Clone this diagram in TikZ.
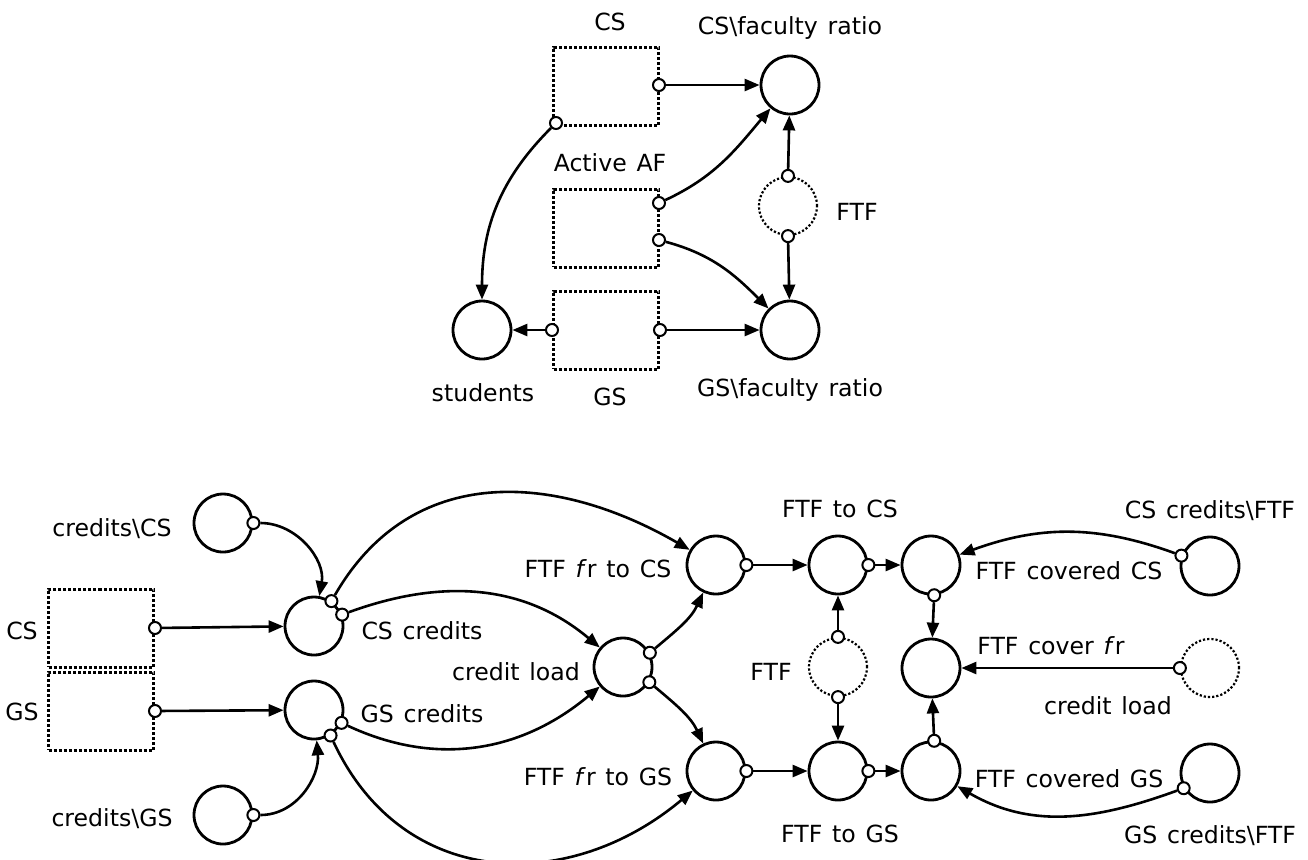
\documentclass[tikz,border=0pt]{standalone}
\usepackage{fontspec}
\setmainfont{DejaVu Sans}[WordSpace=1.3]
\usetikzlibrary{arrows.meta}

\begin{document}
\begin{tikzpicture}[x=0.5pt,y=-0.5pt,font=\fontsize{11.8}{14}\selectfont,
  main node/.style={circle,draw,line width=1.4pt,minimum size=29pt,inner sep=0pt},
  pool node/.style={main node,line width=1.1pt,densely dotted},
  stock/.style={draw,densely dotted,line width=1.5pt,minimum width=52.5pt,minimum height=39pt,inner sep=0pt},
  port/.style={circle,draw,fill=white,line width=1pt,minimum size=6pt,inner sep=0pt},
  flow/.style={-{Triangle[length=7.5pt,width=6pt]},line width=1.3pt}]
  \useasboundingbox (0,0) rectangle (1308,859);

  	\node[stock] at (606,86) (cs) {};
  	\node[stock] at (606,228) (af) {};
  	\node[stock] at (606,330) (gs) {};
  	\node[main node] at (790,85) (csr) {};
  	\node[main node] at (790,330) (gsr) {};
  	\node[pool node] at (788,206) (ftf) {};
  	\node[main node] at (482,330) (st) {};

  	\node at (610,22) (l1) {CS};
  	\node at (790,28) (l2) {CS\textbackslash faculty ratio};
  	\node at (610,163) (l3) {Active AF};
  	\node at (857,212) (l4) {FTF};
  	\node at (483,393) (l5) {students};
  	\node at (610,397) (l6) {GS};
  	\node at (790,390) (l7) {GS\textbackslash faculty ratio};

  	\node[port] at (659,85) (p1) {};
  	\node[port] at (556,123) (p2) {};
  	\node[port] at (659,203) (p3) {};
  	\node[port] at (659,240) (p4) {};
  	\node[port] at (ftf.north) (p5) {};
  	\node[port] at (ftf.south) (p6) {};
  	\node[port] at (gs.west) (p7) {};
  	\node[port] at (gs.east) (p8) {};

  	\path[flow]
  	(p1) edge (csr)
  	(p2) edge[out=-135,in=90] (st)
  	(p3) edge[out=25,in=-130] (csr)
  	(p4) edge[out=-15,in=135] (gsr)
  	(p5) edge (csr)
  	(p6) edge (gsr)
  	(p7) edge (st)
  	(p8) edge (gsr);

  	\node[main node] at (223,523) (ccs) {};
  	\node[main node] at (223,815) (cgs) {};
  	\node[stock] at (101,628) (cs2) {};
  	\node[stock] at (101,711) (gs2) {};
  	\node[main node] at (314,626) (cscr) {};
  	\node[main node] at (314,710) (gscr) {};
  	\node[main node] at (623,667) (cl) {};
  	\node[main node] at (716,565) (fcs) {};
  	\node[main node] at (716,771) (fgs) {};
  	\node[main node] at (838,565) (tcs) {};
  	\node[main node] at (838,771) (tgs) {};
  	\node[pool node] at (838,667) (ftf2) {};
  	\node[main node] at (931,565) (vcs) {};
  	\node[main node] at (931,668) (vfr) {};
  	\node[main node] at (931,771) (vgs) {};
  	\node[main node] at (1210,566) (cftf) {};
  	\node[pool node] at (1210,668) (cl2) {};
  	\node[main node] at (1210,773) (gftf) {};

  	\node at (112,529) (l8) {credits\textbackslash CS};
  	\node at (112,819) (l9) {credits\textbackslash GS};
  	\node at (22,631) (l10) {CS};
  	\node at (22,712) (l11) {GS};
  	\node at (422,631) (l12) {CS credits};
  	\node at (422,714) (l13) {GS credits};
  	\node at (516,672) (l14) {credit load};
  	\node at (598,569) (l15) {FTF \textit{f}r to CS};
  	\node at (598,777) (l16) {FTF \textit{f}r to GS};
  	\node at (840,509) (l17) {FTF to CS};
  	\node at (840,834) (l18) {FTF to GS};
  	\node at (771,672) (l19) {FTF};
  	\node at (1069,571) (l20) {FTF covered CS};
  	\node at (1051,646) (l21) {FTF cover \textit{f}r};
  	\node at (1108,706) (l22) {credit load};
  	\node at (1069,779) (l23) {FTF covered GS};
  	\node at (1210,511) (l24) {CS credits\textbackslash FTF};
  	\node at (1210,836) (l25) {GS credits\textbackslash FTF};

  	\node[port] at (ccs.east) (p9) {};
  	\node[port] at (cgs.east) (p10) {};
  	\node[port] at (cs2.east) (p11) {};
  	\node[port] at (gs2.east) (p12) {};
  	\node[port] at (cscr.55) (p13) {};
  	\node[port] at (cscr.22) (p14) {};
  	\node[port] at (gscr.-25) (p15) {};
  	\node[port] at (gscr.-57) (p16) {};
  	\node[port] at (cl.28) (p17) {};
  	\node[port] at (cl.-30) (p18) {};
  	\node[port] at (fcs.east) (p19) {};
  	\node[port] at (fgs.east) (p20) {};
  	\node[port] at (tcs.east) (p21) {};
  	\node[port] at (tgs.east) (p22) {};
  	\node[port] at (ftf2.north) (p23) {};
  	\node[port] at (ftf2.south) (p24) {};
  	\node[port] at (vcs.-84) (p25) {};
  	\node[port] at (vgs.84) (p26) {};
  	\node[port] at (cftf.160) (p27) {};
  	\node[port] at (cl2.west) (p28) {};
  	\node[port] at (gftf.-150) (p29) {};

  	\path[flow]
  	(p9) edge[out=0,in=80] (cscr)
  	(p10) edge[out=0,in=-85] (gscr)
  	(p11) edge (cscr)
  	(p12) edge (gscr)
  	(p13) edge[out=60,in=150,looseness=1.1] (fcs)
  	(p14) edge[out=20,in=140] (cl)
  	(p15) edge[out=-25,in=-140] (cl)
  	(p16) edge[out=-65,in=-140,looseness=1.15] (fgs)
  	(p17) edge[out=40,in=-115] (fcs)
  	(p18) edge[out=-40,in=115] (fgs)
  	(p19) edge (tcs)
  	(p20) edge (tgs)
  	(p21) edge (vcs)
  	(p22) edge (vgs)
  	(p23) edge (tcs)
  	(p24) edge (tgs)
  	(p25) edge (vfr)
  	(p26) edge (vfr)
  	(p27) edge[out=160,in=20] (vcs)
  	(p28) edge (vfr)
  	(p29) edge[out=-160,in=-30] (vgs);
\end{tikzpicture}
\end{document}
